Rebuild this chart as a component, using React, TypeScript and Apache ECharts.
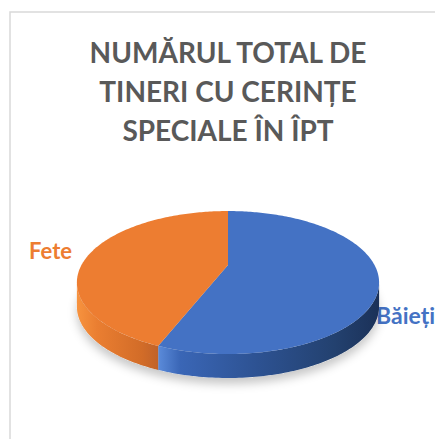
import React, { useEffect, useRef } from "react";
import * as echarts from "echarts";

const titleLines = ["NUMĂRUL TOTAL DE", "TINERI CU CERINȚE", "SPECIALE ÎN ÎPT"];
const categories = ["Băieți", "Fete"];
const values = [56, 44];
const topColors = ["#4472C4", "#ED7D31"];
const sideStops = [
  [
    [0, "#5B8BDA"],
    [0.1, "#3A66B6"],
    [0.45, "#2D5292"],
    [0.8, "#23416F"],
    [1, "#1B3158"],
  ],
  [
    [0, "#F7933F"],
    [0.25, "#EA7E31"],
    [0.8, "#D26C28"],
    [1, "#C0622A"],
  ],
];
const labelColors = ["#4472C4", "#ED7D31"];

// pie projection geometry
const CX = 228;
const CY = 265;
const R = 146.5;
const A = 67.2;
const K = 0.245;
const D = 24;

function project(phiDeg: number, h: number): number[] {
  const phi = (phiDeg * Math.PI) / 180;
  const c = Math.sin(phi);
  const s = -Math.cos(phi);
  const d = 1 - K * s;
  return [CX + (R * c) / d, CY + (A * s) / d + D * h];
}

function arc(a: number, b: number, h: number): number[][] {
  const pts: number[][] = [];
  const n = Math.max(2, Math.ceil(Math.abs(b - a)));
  for (let i = 0; i <= n; i++) pts.push(project(a + ((b - a) * i) / n, h));
  return pts;
}

export default function App() {
  const ref = useRef<HTMLDivElement>(null);
  useEffect(() => {
    if (!ref.current) return;
    const chart = echarts.init(ref.current, undefined, { renderer: "svg" });
    const total = values.reduce((a, b) => a + b, 0);
    const starts: number[] = [];
    let acc = 0;
    values.forEach((v) => {
      starts.push(acc);
      acc += v;
    });
    const visA = (Math.acos(-K) * 180) / Math.PI; // silhouette limits
    const visB = 360 - visA;

    const renderItem = (params: any, api: any) => {
      const i = params.dataIndex;
      const v = api.value(0);
      const a0 = (starts[i] / total) * 360;
      const a1 = a0 + (v / total) * 360;
      const children: any[] = [];
      if (i === 0) {
        const bottom = arc(0, 360, 1);
        children.push({
          type: "polygon",
          z2: 0,
          shape: { points: bottom },
          style: {
            fill: "#e6e6e6",
            shadowBlur: 10,
            shadowColor: "rgba(0,0,0,0.22)",
            shadowOffsetY: 6,
          },
        });
      }
      const s0 = Math.max(a0, visA);
      const s1 = Math.min(a1, visB);
      if (s1 > s0) {
        const top = arc(s0, s1, 0);
        const bot = arc(s1, s0, 1);
        const xs = top.map((p) => p[0]);
        const xmin = Math.min(...xs);
        const xmax = Math.max(...xs);
        const stops = sideStops[i].map((st: any) => ({ offset: st[0], color: st[1] }));
        const grad = new echarts.graphic.LinearGradient(xmin, 0, xmax, 0, stops, true);
        children.push({
          type: "polygon",
          z2: 1,
          shape: { points: top.concat(bot) },
          style: { fill: grad },
        });
      }
      const face = [[CX, CY] as number[]].concat(arc(a0, a1, 0));
      children.push({
        type: "polygon",
        z2: 10,
        shape: { points: face },
        style: { fill: topColors[i] },
      });
      return { type: "group", children };
    };

    chart.setOption({
      animation: false,
      backgroundColor: "#ffffff",
      graphic: [
        {
          type: "rect",
          shape: { x: 10, y: 12, width: 600, height: 600 },
          style: { fill: "none", stroke: "#d9d9d9", lineWidth: 1.5 },
          silent: true,
        },
        {
          type: "text",
          x: 228,
          y: 32,
          style: {
            text: titleLines.join("\n"),
            fill: "#595959",
            fontFamily: "Lato",
            fontWeight: "bold",
            fontSize: 28,
            lineHeight: 39,
            align: "center",
            textAlign: "center",
            verticalAlign: "top",
            textVerticalAlign: "top",
          },
        },
        {
          type: "text",
          x: 72,
          y: 250,
          style: {
            text: categories[1],
            fill: labelColors[1],
            fontFamily: "Lato",
            fontWeight: "bold",
            fontSize: 22,
            align: "right",
            textAlign: "right",
            verticalAlign: "middle",
            textVerticalAlign: "middle",
          },
        },
        {
          type: "text",
          x: 376,
          y: 315,
          style: {
            text: categories[0],
            fill: labelColors[0],
            fontFamily: "Lato",
            fontWeight: "bold",
            fontSize: 23,
            align: "left",
            textAlign: "left",
            verticalAlign: "middle",
            textVerticalAlign: "middle",
          },
        },
      ],
      series: [
        {
          type: "custom",
          coordinateSystem: "none",
          data: values.map((v, i) => ({ name: categories[i], value: v })),
          renderItem,
        },
      ],
    });
    return () => chart.dispose();
  }, []);
  return (
    <div
      ref={ref}
      style={{ position: "absolute", left: 0, top: 0, width: 435, height: 439 }}
    />
  );
}
